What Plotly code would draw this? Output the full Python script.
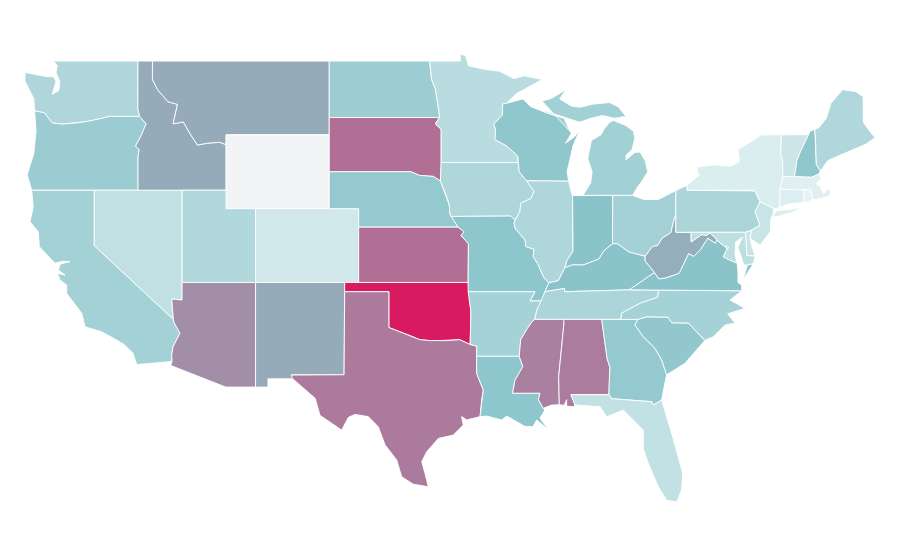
import plotly.graph_objects as go
from plotly.colors import sample_colorscale

# no topojson without network, so the state outlines live here as lon/lat
# shared borders are kept as chains so that neighbours line up
UPPER_MISS = [(-92.02, 46.71), (-92.29, 46.66), (-92.29, 46.08), (-92.88, 45.57), (-92.75, 45.3), (-92.8, 44.75),
              (-92.0, 44.4), (-91.25, 43.85), (-91.22, 43.5)]
IOWA_MISS = [(-91.22, 43.5), (-91.15, 43.0), (-90.65, 42.51), (-90.15, 41.95), (-90.35, 41.55), (-91.05, 41.3),
             (-91.1, 40.85), (-91.42, 40.38)]
IL_MO_MISS = [(-91.42, 40.38), (-91.5, 40.2), (-91.4, 39.9), (-90.75, 39.3), (-90.7, 38.95), (-90.15, 38.8),
              (-90.2, 38.4), (-89.85, 37.95), (-89.5, 37.3), (-89.15, 36.98)]
OHIO_RIVER = [(-89.15, 36.98), (-88.5, 37.1), (-88.05, 37.8), (-87.55, 37.95), (-86.8, 37.95), (-86.3, 38.1),
              (-85.75, 38.27), (-85.4, 38.72), (-84.82, 39.1), (-84.5, 39.1), (-83.7, 38.65), (-82.6, 38.42),
              (-82.1, 38.95), (-81.75, 39.0), (-81.45, 39.4), (-80.85, 39.7), (-80.65, 40.4), (-80.52, 40.64)]
WABASH = [(-88.05, 37.8), (-87.9, 38.2), (-87.5, 38.7), (-87.53, 39.35), (-87.53, 41.71)]
MO_RIVER = [(-96.5, 42.5), (-96.1, 41.7), (-95.9, 41.2), (-95.85, 40.7), (-95.77, 40.58), (-95.3, 40.0),
            (-94.9, 39.75), (-95.1, 39.55), (-94.6, 39.1)]
SD_NE = [(-104.05, 43.0), (-98.5, 43.0), (-97.9, 42.8), (-97.0, 42.75), (-96.5, 42.5)]
LOW_MISS_TN = [(-89.4, 36.5), (-89.7, 36.0), (-89.95, 35.5), (-90.1, 35.0)]
LOW_MISS_MS = [(-90.1, 35.0), (-90.3, 34.85), (-90.6, 34.5), (-91.05, 33.9), (-91.15, 33.0)]
LOW_MISS_LA = [(-91.15, 33.0), (-90.9, 32.44), (-91.44, 31.7), (-91.6, 31.0), (-89.74, 31.0), (-89.85, 30.65),
               (-89.52, 30.18)]
RED_RIVER = [(-100.0, 34.56), (-99.2, 34.3), (-98.5, 34.1), (-97.9, 33.9), (-97.2, 33.85), (-96.6, 33.85),
             (-96.0, 33.85), (-95.2, 33.9), (-94.48, 33.64)]
SABINE = [(-94.04, 33.0), (-94.04, 32.07), (-93.59, 31.17), (-93.7, 30.63), (-93.81, 29.73)]
COLUMBIA = [(-124.05, 46.3), (-123.4, 46.2), (-122.85, 45.65), (-122.2, 45.58), (-121.2, 45.65), (-120.5, 45.72),
            (-119.3, 45.93), (-118.98, 46.0), (-116.92, 46.0)]
SNAKE = [(-116.92, 46.0), (-116.48, 45.6), (-116.85, 44.9), (-117.2, 44.4), (-116.95, 44.2), (-117.03, 43.8),
         (-117.03, 42.0)]
COLORADO_R = [(-114.63, 35.0), (-114.57, 34.8), (-114.18, 34.25), (-114.65, 33.52), (-114.74, 33.07),
              (-114.72, 32.72)]
ID_MT = [(-116.05, 49.0), (-116.05, 48.0), (-115.7, 47.45), (-115.0, 46.8), (-114.35, 46.65), (-114.65, 45.6),
         (-113.95, 45.7), (-113.45, 45.0), (-113.0, 44.45), (-112.3, 44.55), (-111.5, 44.6), (-111.05, 44.47)]
MN_DAK = [(-97.23, 49.0), (-97.1, 48.0), (-96.85, 47.5), (-96.6, 46.3), (-96.56, 45.94), (-96.85, 45.6),
          (-96.45, 45.3), (-96.45, 43.5)]
SAVANNAH = [(-83.1, 35.0), (-83.29, 34.69), (-82.73, 34.06), (-81.93, 33.43), (-81.48, 32.8), (-81.14, 32.0)]
NC_SC = [(-83.1, 35.0), (-82.5, 35.14), (-81.05, 35.12), (-80.8, 34.82), (-79.67, 34.8), (-78.55, 33.86)]
TN_NC = [(-84.26, 35.0), (-84.19, 35.34), (-82.95, 35.87), (-82.3, 36.05), (-81.75, 36.2), (-81.68, 36.59)]
KY_TN = [(-83.68, 36.6), (-88.07, 36.5), (-88.07, 36.68), (-89.4, 36.5)]
KY_WV_VA = [(-82.6, 38.42), (-82.6, 38.17), (-81.97, 37.54), (-83.68, 36.6)]
VA_WV = [(-81.97, 37.54), (-81.68, 37.2), (-81.2, 37.25), (-80.3, 37.5), (-79.65, 38.57), (-79.3, 38.42),
         (-78.87, 38.76), (-78.35, 39.4), (-77.83, 39.13), (-77.72, 39.32)]
POTOMAC = [(-77.72, 39.32), (-77.5, 39.12), (-77.12, 38.93), (-77.04, 38.8), (-77.3, 38.4), (-76.95, 38.25),
           (-76.35, 38.05)]
MD_WV = [(-79.48, 39.72), (-79.48, 39.2), (-78.75, 39.6), (-78.45, 39.55), (-78.2, 39.68), (-77.72, 39.32)]
AL_GA = [(-85.55, 35.0), (-85.18, 32.87), (-84.99, 32.4), (-85.05, 31.55), (-85.06, 30.92)]
AL_MS = [(-88.2, 35.0), (-88.1, 34.9), (-88.47, 31.9), (-88.43, 30.37)]
FL_GA = [(-85.06, 30.92), (-84.86, 30.7), (-82.16, 30.54), (-82.05, 30.36), (-81.48, 30.63)]
NY_PA = [(-79.76, 42.27), (-79.76, 42.0), (-75.35, 42.0), (-75.14, 41.96), (-74.8, 41.38)]
DELAWARE_R = [(-74.8, 41.38), (-75.14, 40.83), (-74.8, 40.1), (-75.37, 39.84)]
NY_NE = [(-73.67, 41.0), (-73.45, 41.1), (-73.45, 42.05), (-73.25, 42.75), (-73.27, 43.6), (-73.4, 44.0),
         (-73.35, 45.0)]
VT_NH = [(-72.46, 42.73), (-72.3, 43.6), (-72.05, 44.1), (-71.5, 45.01)]
NH_ME = [(-70.7, 43.05), (-70.98, 43.4), (-71.03, 44.65), (-71.08, 45.3)]
WI_UP = [(-90.4, 46.55), (-89.1, 46.14), (-88.1, 45.9), (-87.8, 45.35), (-87.6, 45.1)]
MI_SOUTH = [(-86.82, 41.72), (-84.8, 41.72), (-83.45, 41.72)]


def back(chain):
    return chain[::-1]


STATE_SHAPES = {
    'WA': [[(-117.03, 49.0), (-122.76, 49.0), (-122.5, 48.75), (-122.6, 48.4), (-122.35, 47.9), (-122.4, 47.4),
            (-122.85, 47.2), (-122.6, 47.9), (-122.75, 48.15), (-123.2, 48.15), (-124.7, 48.38), (-124.7, 47.9),
            (-124.1, 46.95)] + COLUMBIA + [(-117.04, 46.43)]],
    'OR': [COLUMBIA + SNAKE[1:] + [(-124.25, 42.0), (-124.55, 42.84), (-124.1, 44.0), (-123.95, 45.2)]],
    'CA': [[(-124.25, 42.0), (-120.0, 42.0), (-120.0, 39.0)] + COLORADO_R +
           [(-117.12, 32.55), (-117.37, 33.17), (-118.0, 33.65), (-118.48, 33.88), (-119.5, 34.33),
            (-120.63, 34.6), (-120.85, 35.33), (-121.87, 36.4), (-121.87, 36.86), (-122.33, 37.13), (-122.5, 37.5),
            (-121.99, 37.4), (-122.44, 37.68), (-122.3, 38.0), (-121.65, 38.13), (-122.1, 38.15), (-122.67, 38.05),
            (-123.73, 38.94), (-123.8, 39.75), (-124.36, 40.29), (-124.14, 41.1)]],
    'NV': [[(-120.0, 42.0), (-114.04, 42.0), (-114.04, 36.05), (-114.74, 36.1), (-114.63, 35.0), (-120.0, 39.0)]],
    'UT': [[(-114.04, 42.0), (-111.05, 42.0), (-111.05, 41.0), (-109.05, 41.0), (-109.05, 37.0), (-114.04, 37.0)]],
    'AZ': [[(-114.04, 37.0), (-109.05, 37.0), (-109.05, 31.33), (-111.07, 31.33), (-114.81, 32.5)] +
           back(COLORADO_R) + [(-114.74, 36.1), (-114.04, 36.05)]],
    'NM': [[(-109.05, 37.0), (-103.0, 37.0), (-103.04, 32.0), (-106.62, 32.0), (-106.53, 31.78), (-108.21, 31.78),
            (-108.21, 31.33), (-109.05, 31.33)]],
    'CO': [[(-109.05, 41.0), (-102.05, 41.0), (-102.05, 37.0), (-109.05, 37.0)]],
    'WY': [[(-111.05, 45.0), (-104.05, 45.0), (-104.05, 41.0), (-111.05, 41.0)]],
    'ID': [[(-117.03, 49.0)] + ID_MT + [(-111.05, 42.0)] + back(SNAKE) + [(-117.04, 46.43)]],
    'MT': [[(-104.05, 49.0), (-104.05, 45.0), (-111.05, 45.0)] + back(ID_MT)],
    'ND': [[(-104.05, 49.0), (-97.23, 49.0), (-97.1, 48.0), (-96.85, 47.5), (-96.6, 46.3), (-96.56, 45.94),
            (-104.05, 45.94)]],
    'SD': [[(-104.05, 45.94), (-96.56, 45.94), (-96.85, 45.6), (-96.45, 45.3), (-96.45, 43.5), (-96.45, 43.0)] +
           back(SD_NE)],
    'NE': [SD_NE + MO_RIVER[1:6] + [(-102.05, 40.0), (-102.05, 41.0), (-104.05, 41.0)]],
    'KS': [[(-102.05, 40.0)] + MO_RIVER[5:] + [(-94.62, 37.0), (-102.05, 37.0)]],
    'OK': [[(-103.0, 37.0), (-94.62, 37.0), (-94.43, 35.4)] + back(RED_RIVER) + [(-100.0, 36.5), (-103.0, 36.5)]],
    'TX': [[(-103.0, 36.5), (-100.0, 36.5)] + RED_RIVER + [(-94.04, 33.55)] + SABINE +
           [(-94.72, 29.55), (-95.06, 29.73), (-94.95, 29.27), (-95.63, 28.73), (-96.64, 28.55), (-97.43, 27.83),
            (-97.77, 27.28), (-97.55, 26.66), (-97.32, 25.93), (-98.34, 26.07), (-99.13, 26.47), (-99.47, 27.38),
            (-100.26, 28.2), (-100.72, 29.18), (-101.4, 29.73), (-102.3, 29.85), (-102.75, 29.69), (-103.2, 29.0),
            (-104.68, 29.8), (-105.0, 30.72), (-106.53, 31.78), (-106.64, 31.98), (-103.04, 32.0)]],
    'MN': [[(-97.23, 49.0), (-95.15, 49.0), (-95.15, 49.38), (-94.8, 49.3), (-94.6, 48.75), (-93.5, 48.55),
            (-92.5, 48.45), (-91.5, 48.05), (-90.8, 48.2), (-89.6, 48.0), (-91.3, 47.25)] + UPPER_MISS +
           back(MN_DAK)],
    'IA': [[(-96.45, 43.5)] + IOWA_MISS + [(-91.72, 40.6), (-95.77, 40.58)] + back(MO_RIVER[:5]) +
           [(-96.45, 43.0)]],
    'MO': [[(-95.77, 40.58), (-91.72, 40.6)] + IL_MO_MISS + [(-89.4, 36.5), (-89.62, 36.0), (-90.42, 36.0),
            (-90.08, 36.5), (-94.62, 36.5), (-94.62, 37.0)] + back(MO_RIVER[4:])],
    'AR': [[(-94.62, 36.5), (-90.08, 36.5), (-90.42, 36.0), (-89.62, 36.0)] + LOW_MISS_TN[2:] + LOW_MISS_MS +
           [(-94.04, 33.0), (-94.04, 33.55), (-94.48, 33.64), (-94.43, 35.4)]],
    'LA': [LOW_MISS_LA + [(-89.4, 30.1), (-89.74, 29.65), (-89.18, 29.04), (-89.97, 29.55), (-90.22, 29.18),
            (-90.76, 29.2), (-92.0, 29.76), (-92.34, 29.55), (-93.36, 29.76)] + back(SABINE)],
    'MS': [back(LOW_MISS_MS) + AL_MS + [(-88.95, 30.36)] + back(LOW_MISS_LA)],
    'AL': [AL_GA + [(-87.64, 30.92), (-87.36, 30.36), (-87.48, 30.27), (-87.93, 30.3), (-87.93, 30.65),
            (-88.1, 30.35)] + back(AL_MS)],
    'GA': [SAVANNAH + [(-81.3, 31.4)] + back(FL_GA) + back(AL_GA)],
    'FL': [[(-87.64, 30.92)] + FL_GA + [(-80.8, 28.82), (-80.24, 27.2), (-80.05, 26.66), (-80.13, 25.75),
            (-80.46, 25.1), (-81.14, 25.2), (-81.71, 25.93), (-82.39, 27.2), (-82.73, 28.0), (-82.73, 29.0),
            (-84.08, 30.09), (-85.21, 29.72), (-85.67, 30.27), (-87.36, 30.36)]],
    'SC': [NC_SC + [(-79.9, 32.62)] + back(SAVANNAH)],
    'NC': [[(-84.26, 35.0)] + NC_SC + [(-77.97, 34.06), (-77.18, 34.69), (-76.5, 34.8), (-77.0, 35.3),
            (-75.82, 35.6), (-76.84, 36.05), (-76.03, 36.55)] + back(TN_NC)],
    'TN': [[(-90.1, 35.0), (-88.2, 35.0), (-85.55, 35.0)] + TN_NC + KY_TN + LOW_MISS_TN[1:3]],
    'KY': [OHIO_RIVER[:12] + KY_WV_VA[1:] + KY_TN[1:]],
    'VA': [[(-83.68, 36.6), (-81.68, 36.59), (-76.03, 36.55), (-76.05, 36.86), (-76.3, 37.0), (-76.3, 37.55)] +
           back(POTOMAC) + back(VA_WV)],
    'VA2': [[(-75.95, 37.15), (-75.65, 37.95), (-75.25, 38.03), (-75.9, 37.2)]],
    'WV': [OHIO_RIVER[11:] + [(-80.52, 39.72)] + MD_WV + back(VA_WV) + [(-82.6, 38.17)]],
    'PA': [[(-80.52, 41.98)] + NY_PA + DELAWARE_R[1:] + [(-75.79, 39.72), (-80.52, 39.72)]],
    'OH': [[(-84.82, 39.1), (-84.8, 41.72), (-83.45, 41.72), (-82.7, 41.5), (-81.7, 41.5), (-80.52, 41.98)] +
           back(OHIO_RIVER[8:])],
    'IN': [back(WABASH) + OHIO_RIVER[2:9] + [(-84.8, 41.72), (-86.82, 41.72)]],
    'IL': [[(-90.65, 42.51), (-87.8, 42.49), (-87.6, 41.85)] + back(WABASH) + back(OHIO_RIVER[:3]) +
           back(IL_MO_MISS)[1:] + back(IOWA_MISS)[1:6]],
    'WI': [[(-92.02, 46.71), (-90.9, 46.95)] + WI_UP + [(-88.0, 44.55), (-87.4, 44.9), (-87.05, 45.25),
            (-87.5, 44.4), (-87.75, 43.6), (-87.9, 43.0), (-87.8, 42.49), (-90.65, 42.51)] +
           back(IOWA_MISS[:3])[1:] + back(UPPER_MISS)],
    'MI': [back(WI_UP) + [(-87.1, 45.7), (-86.8, 45.75), (-86.3, 45.9), (-85.5, 46.05), (-84.7, 45.9),
            (-83.9, 46.0), (-84.1, 46.2), (-84.4, 46.5), (-85.0, 46.75), (-86.1, 46.67), (-87.0, 46.5),
            (-87.6, 46.55), (-88.4, 46.95), (-88.0, 47.45), (-88.9, 47.0), (-89.6, 46.83)],
           MI_SOUTH + [(-83.1, 42.2), (-82.9, 42.4), (-82.42, 43.0), (-82.6, 43.6), (-82.95, 44.07), (-83.3, 44.05),
            (-83.9, 43.65), (-83.9, 43.9), (-83.5, 44.2), (-83.3, 44.8), (-83.4, 45.2), (-83.9, 45.5),
            (-84.75, 45.78), (-85.0, 45.7), (-85.4, 45.3), (-85.6, 45.0), (-86.25, 44.7), (-86.5, 43.7),
            (-86.2, 43.0), (-86.3, 42.4)]],
    'NY': [NY_PA + [(-73.9, 41.02), (-73.67, 41.0)] + NY_NE[1:] +
           [(-74.7, 45.0), (-75.5, 44.6), (-76.3, 44.2), (-76.2, 43.55), (-76.8, 43.3), (-78.0, 43.37),
            (-79.05, 43.27), (-79.05, 42.9), (-78.9, 42.85)],
           [(-74.0, 40.6), (-73.7, 40.88), (-72.6, 40.98), (-71.97, 41.05), (-72.6, 40.8), (-73.6, 40.58)]],
    'NJ': [[(-74.8, 41.38), (-73.9, 41.02), (-73.9, 40.76), (-74.08, 40.39), (-74.1, 39.75), (-74.8, 39.03),
            (-75.3, 39.3), (-75.48, 39.4)] + back(DELAWARE_R)],
    'DE': [[(-75.79, 39.72), (-75.37, 39.84), (-75.48, 39.4), (-75.4, 39.1), (-75.14, 38.43), (-75.7, 38.46)]],
    'MD': [[(-79.48, 39.72), (-75.79, 39.72), (-75.7, 38.46), (-75.14, 38.43), (-75.25, 38.03), (-75.65, 37.95),
            (-75.9, 37.95), (-76.3, 38.9), (-76.0, 39.45), (-76.45, 39.2), (-76.5, 38.5)] + back(POTOMAC) +
           back(MD_WV)[1:]],
    'DC': [[(-77.12, 38.93), (-77.04, 38.99), (-76.91, 38.89), (-77.04, 38.8)]],
    'CT': [[(-73.45, 42.05), (-71.82, 42.02), (-71.82, 41.34), (-72.9, 41.25), (-73.67, 41.0), (-73.45, 41.1)]],
    'RI': [[(-71.82, 42.02), (-71.38, 42.02), (-71.2, 41.5), (-71.5, 41.37), (-71.82, 41.34)]],
    'MA': [[(-73.45, 42.05), (-71.82, 42.02), (-71.38, 42.02), (-71.2, 41.5), (-71.0, 41.5), (-70.65, 41.55),
            (-70.05, 41.7), (-70.0, 42.05), (-70.2, 42.07), (-70.5, 41.8), (-70.7, 42.2), (-71.0, 42.35),
            (-70.65, 42.65), (-70.82, 42.87), (-71.3, 42.7), (-72.46, 42.73), (-73.25, 42.75)]],
    'VT': [[(-73.25, 42.75)] + VT_NH + [(-73.35, 45.0), (-73.4, 44.0), (-73.27, 43.6)]],
    'NH': [VT_NH + [(-71.4, 45.2)] + back(NH_ME) + [(-70.82, 42.87), (-71.3, 42.7)]],
    'ME': [NH_ME + [(-70.8, 45.4), (-70.3, 45.9), (-70.0, 46.7), (-69.2, 47.45), (-69.05, 47.43), (-68.3, 47.35),
            (-67.8, 47.07), (-67.8, 45.7), (-67.45, 45.3), (-67.0, 44.85), (-67.6, 44.5), (-68.2, 44.3),
            (-69.0, 44.05), (-69.8, 43.75), (-70.2, 43.6)]],
}

STATES = ['WA', 'OR', 'CA', 'NV', 'ID', 'MT', 'WY', 'UT', 'CO', 'AZ', 'NM', 'ND', 'SD', 'NE', 'KS', 'OK', 'TX',
          'MN', 'IA', 'MO', 'AR', 'LA', 'WI', 'IL', 'MI', 'IN', 'OH', 'KY', 'TN', 'MS', 'AL', 'GA', 'FL', 'SC',
          'NC', 'VA', 'VA2', 'WV', 'PA', 'NY', 'VT', 'NH', 'ME', 'MA', 'CT', 'RI', 'NJ', 'DE', 'MD', 'DC']
VALUES = [19, 25, 22, 13.5, 40.5, 40.5, 0, 18, 8.7, 52.5, 40.5, 24.5, 65, 27, 65, 100, 60.5,
          16, 19, 29, 21.5, 29, 28.5, 19, 23, 30, 22.4, 30.3, 20, 58, 60, 27, 13, 28,
          21.8, 30, 30, 39, 20, 5.6, 10, 28.5, 18.4, 4, 4.7, 2.5, 11, 11, 14, 14]
COLOR_STOPS = [[0, 'rgb(243,244,246)'], [0.05, 'rgb(220,238,240)'], [0.3, 'rgb(138,196,202)'], [1, 'rgb(216,27,96)']]

fig = go.Figure()
for state, value in zip(STATES, VALUES):
    xs, ys = [], []
    for ring in STATE_SHAPES[state]:
        xs += [p[0] for p in ring] + [ring[0][0], None]
        ys += [p[1] for p in ring] + [ring[0][1], None]
    fig.add_trace(go.Scatter(
        x=xs, y=ys,
        mode='lines',
        fill='toself',
        fillcolor=sample_colorscale(COLOR_STOPS, [value / 100])[0],
        line=dict(color='white', width=0.9),
        name=state[:2],
        hoverinfo='name',
    ))

# the map is stretched: 14.73 px per degree across, 18.45 px per degree down
# ranges also take up the 8px margin of the page body
fig.update_xaxes(range=[-125.857, -64.757], visible=False, fixedrange=True)
fig.update_yaxes(range=[21.526, 51.876], visible=False, fixedrange=True)
fig.update_layout(
    width=900, height=560,
    margin=dict(l=0, r=0, t=0, b=0),
    showlegend=False,
    paper_bgcolor='white',
    plot_bgcolor='white',
)
fig.write_html("out.html")
